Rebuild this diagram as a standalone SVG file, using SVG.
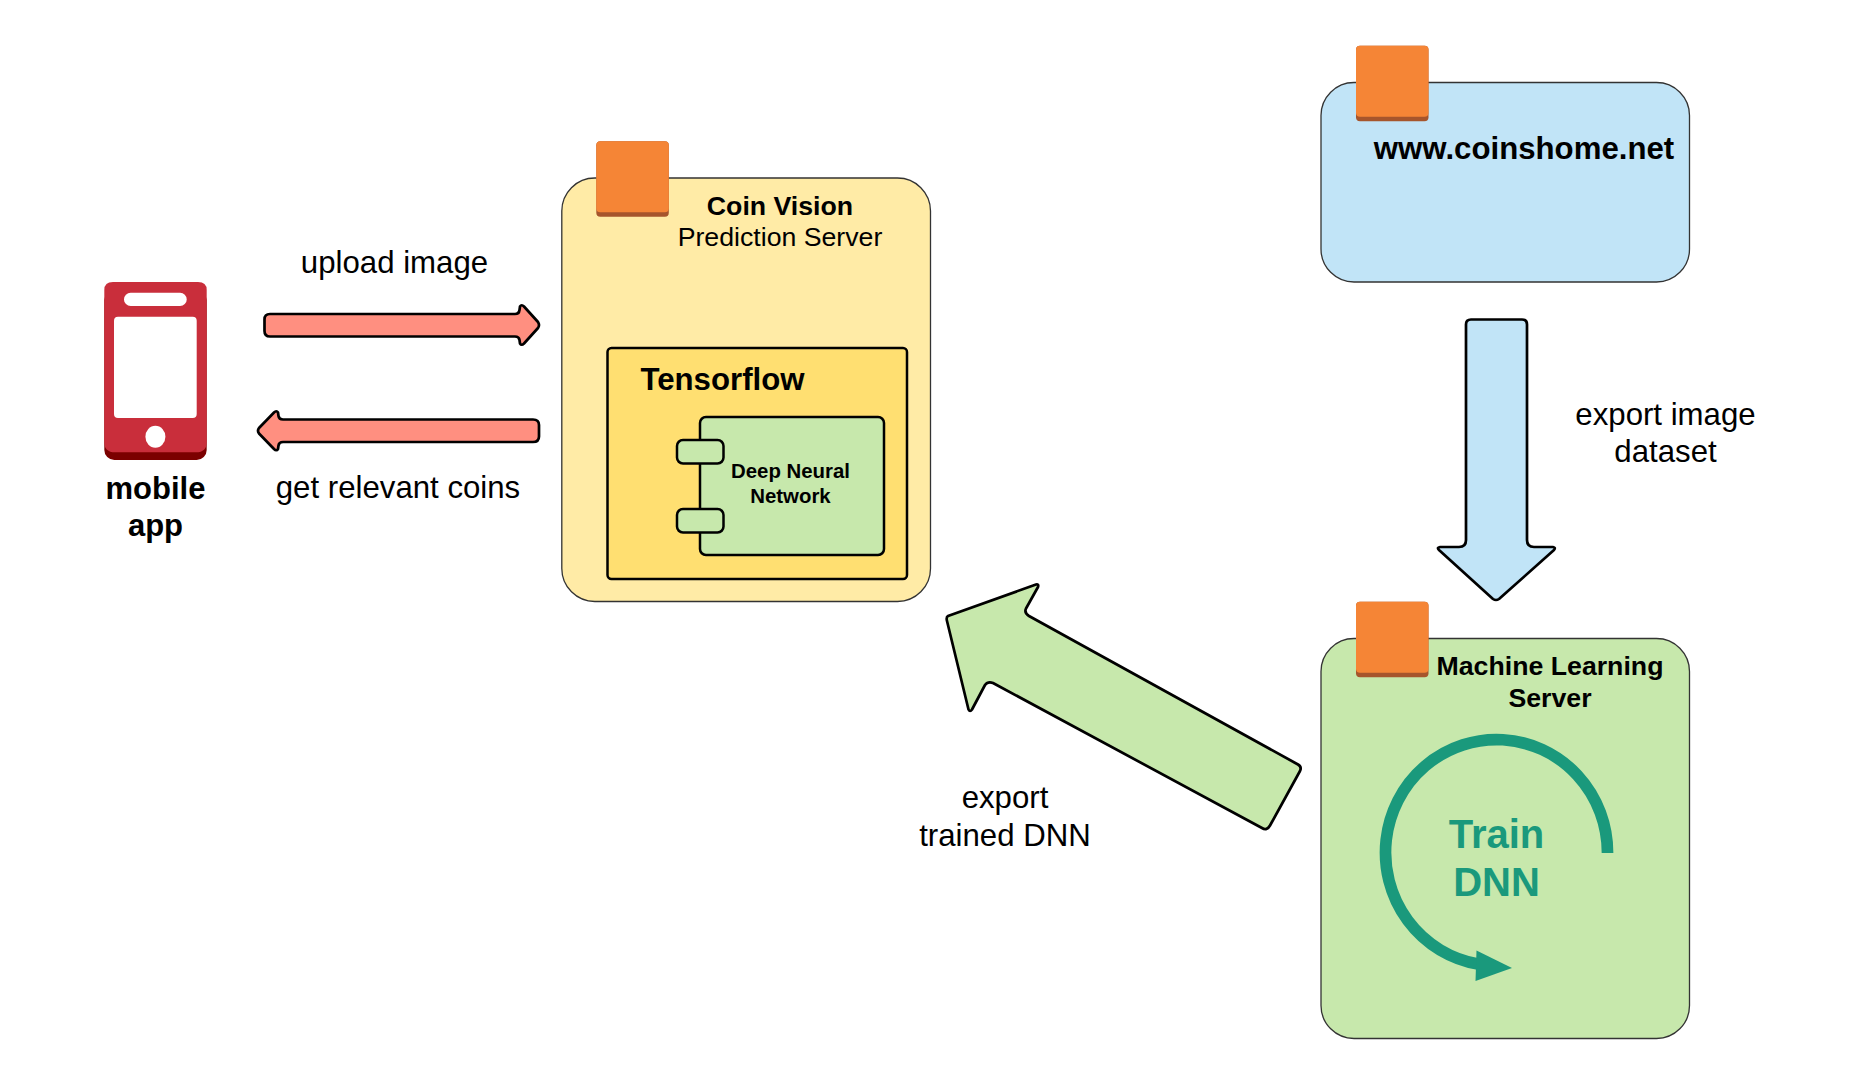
<svg xmlns="http://www.w3.org/2000/svg" width="1851" height="1085" viewBox="0 0 1851 1085">
<style>
text{font-family:"Liberation Sans",Arial,sans-serif;fill:#000;text-anchor:middle}
.b{font-weight:bold}
.l{font-size:31.2px}
.m{font-size:26.7px}
.s{font-size:20.4px}
.t{font-size:40px;font-weight:bold;fill:#1a997c}
.box{stroke:#333;stroke-width:1.3}
.in{stroke:#000;stroke-width:2.5;stroke-linejoin:round}
.arrow{stroke:#000;stroke-width:2.7;stroke-linejoin:round}
.tab{fill:#f58536}
.tabd{fill:#a6552c}
</style>
<defs>
<g id="tab"><rect class="tabd" x="0" y="0" width="72.5" height="75.5" rx="4"/><path class="tab" d="M4 0H68.500A4 4 0 0 1 72.500 4V67.500A4 4 0 0 1 68.500 71H4A4 4 0 0 1 0 67.500V4A4 4 0 0 1 4 0Z"/></g>
</defs>
<rect width="1851" height="1085" fill="#fff"/>
<g id="connectors">
<path id="upload-arrow" class="arrow" fill="#ff8f80" d="M270 314H515Q519 314 519.500 310L520 306.500Q521.500 304 524 306.500L538 322Q540 325 538 328L524 343.500Q521.500 346 520 343.500L519.500 340Q519 336.500 515 336.500H270Q264.500 336.500 264.500 331V319.500Q264.500 314 270 314Z"/>
<path id="coins-arrow" class="arrow" fill="#ff8f80" d="M533 419.500H283Q279 419.500 278.500 416L278 412.500Q276.500 410 274 412.500L259 428Q257 430.700 259 433.500L274 449Q276.500 451.500 278 449L278.500 445.500Q279 442 283 442H533Q539 442 539 436.500V425Q539 419.500 533 419.500Z"/>
<path id="dataset-arrow" class="arrow" fill="#c1e4f7" d="M1471 319.500H1522Q1527 319.500 1527 324.500V540Q1527 547 1534 547H1553Q1556 547.500 1554 550L1499 599Q1496 601 1493 599L1439 550Q1436.500 547.500 1440 547H1459Q1466 547 1466 540V324.500Q1466 319.500 1471 319.500Z"/>
<path id="export-arrow" class="arrow" fill="#c7e8ac" d="M948 616L1036 584.500Q1039 584 1038 587L1026 608.500Q1024 613 1029 616L1298 764.500Q1302 767 1300 771L1270 825.500Q1267 831 1262 828L993 683Q988 681 985 685L972 709.500Q970 712.500 968.500 709.500L947 621Q946 617 948 616Z"/>
</g>
<g id="mobile-app">
<rect x="104.300" y="290" width="102.400" height="170" rx="10" fill="#7b0000"/>
<path d="M113 282H198Q206.700 282 206.700 290V442Q206.700 452.300 196 452.300H115Q104.300 452.300 104.300 442V290Q104.300 282 113 282Z" fill="#c92e3b"/>
<rect x="124" y="292.700" width="62.700" height="13.300" rx="6.600" fill="#fff"/>
<rect x="114" y="316.700" width="82.700" height="101.300" rx="4" fill="#fff"/>
<ellipse cx="155.400" cy="436.700" rx="10" ry="11" fill="#fff"/>
<text class="b" style="font-size:31px" x="155.500" y="498.500">mobile</text>
<text class="b" style="font-size:31px" x="155.500" y="535.500">app</text>
</g>
<g id="prediction-server">
<rect class="box" x="561.800" y="178" width="368.700" height="423.500" rx="33" fill="#ffeba6"/>
<use href="#tab" x="596.300" y="141.300"/>
<text class="b m" x="780" y="214.800">Coin Vision</text>
<text class="m" x="780" y="246">Prediction Server</text>
</g>
<g id="tensorflow">
<rect class="in" x="607.500" y="348" width="299.500" height="231" rx="4" fill="#ffdf71"/>
<text class="b l" x="722.500" y="389.500">Tensorflow</text>
</g>
<g id="dnn">
<rect class="in" x="700" y="417" width="184" height="138" rx="6" fill="#c7e8ac"/>
<rect class="in" x="677" y="440" width="46.500" height="23.500" rx="6" fill="#c7e8ac"/>
<rect class="in" x="677" y="509" width="46.500" height="23.500" rx="6" fill="#c7e8ac"/>
<text class="b s" x="790.500" y="478">Deep Neural</text>
<text class="b s" x="790.500" y="502.500">Network</text>
</g>
<g id="website">
<rect class="box" x="1321" y="82.500" width="368.500" height="199.500" rx="33" fill="#c1e4f7"/>
<use href="#tab" x="1356" y="45.700"/>
<text class="b l" x="1524" y="159">www.coinshome.net</text>
</g>
<g id="ml-server">
<rect class="box" x="1321" y="638.500" width="368.500" height="400" rx="33" fill="#c7e8ac"/>
<use href="#tab" x="1356" y="601.700"/>
<text class="b m" x="1550" y="675">Machine Learning</text>
<text class="b m" x="1550" y="707">Server</text>
<path d="M1607.500 853A111 113 0 1 0 1478 964" fill="none" stroke="#1a997c" stroke-width="11.700"/>
<path d="M1476.500 950.500L1512 968L1475.500 981Z" fill="#1a997c"/>
<text class="t" x="1496.500" y="848">Train</text>
<text class="t" x="1496.500" y="895.500">DNN</text>
</g>
<g id="labels">
<text class="l" x="394.500" y="273">upload image</text>
<text class="l" x="398" y="498">get relevant coins</text>
<text class="l" x="1665.500" y="425">export image</text>
<text class="l" x="1665.500" y="462">dataset</text>
<text class="l" x="1005" y="808">export</text>
<text class="l" x="1005" y="845.500">trained DNN</text>
</g>
</svg>
